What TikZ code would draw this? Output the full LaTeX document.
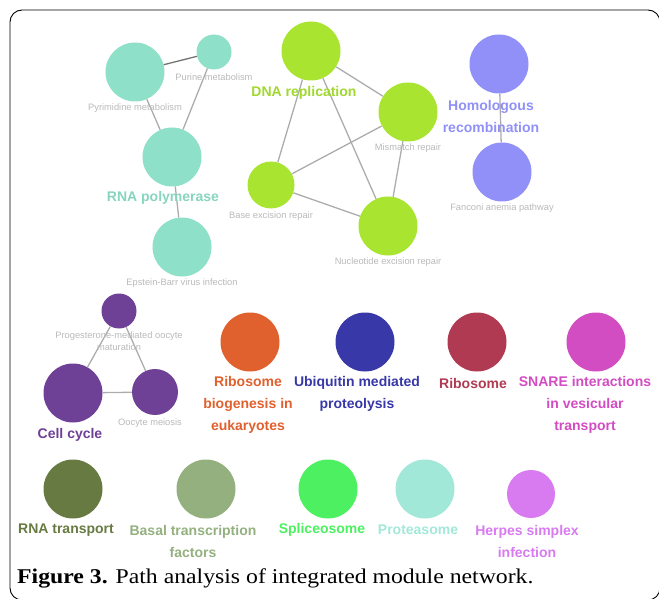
\documentclass[tikz,border=0pt]{standalone}
\usepackage{fontspec}
\setmainfont{Liberation Serif}
\newfontfamily\arialfont{Liberation Sans}
\usetikzlibrary{positioning}

\definecolor{teal1}{HTML}{8EE0C8}
\definecolor{lime1}{HTML}{A8E430}
\definecolor{lilac1}{HTML}{9090F8}
\definecolor{grape1}{HTML}{6E4096}
\definecolor{rust1}{HTML}{E0602E}
\definecolor{navy1}{HTML}{3838A8}
\definecolor{wine1}{HTML}{B03A52}
\definecolor{pink1}{HTML}{D24CC2}
\definecolor{olive1}{HTML}{667A42}
\definecolor{sage1}{HTML}{93B07E}
\definecolor{neon1}{HTML}{4CF060}
\definecolor{mint1}{HTML}{A2E8D8}
\definecolor{orchid1}{HTML}{D87AF0}

\begin{document}
\begin{tikzpicture}[
  x=1pt,y=-1pt,
  pathway/.style={circle,inner sep=0pt,minimum size=#1},
  pathway/.default=59pt,
  module/.style={font=\arialfont\bfseries\fontsize{14}{22}\selectfont,
    align=center,inner sep=0pt},
  member/.style={font=\arialfont\fontsize{9.3}{12}\selectfont,
    text=gray!55,align=center,inner sep=0pt},
  link/.style={draw=gray!65,line width=1.3pt}
]
\useasboundingbox (0,0) rectangle (659,599);
\draw[rounded corners=12pt,line width=0.9pt] (10,10) rectangle (660,600);

% teal module
\node[pathway,fill=teal1] (pyrimidine) at (135,72) {};
\node[pathway=35pt,fill=teal1] (purine) at (214,52) {};
\node[pathway,fill=teal1] (rnapol) at (172,157) {};
\node[pathway,fill=teal1] (ebv) at (182,247) {};
\draw[link,draw=gray!90!black] (pyrimidine)--(purine);
\draw[link] (pyrimidine)--(rnapol);
\draw[link] (purine)--(rnapol);
\draw[link] (rnapol)--(ebv);
\node[member] (purine-t) at (214,77) {Purine metabolism};
\node[member] (pyrimidine-t) at (135,108) {Pyrimidine metabolism};
\node[module,text=teal1!95!black] (rnapol-t) at (163,198) {RNA polymerase};
\node[member] (ebv-t) at (182,283) {Epstein-Barr virus infection};

% lime module
\node[pathway,fill=lime1] (dnarep) at (311,51) {};
\node[pathway,fill=lime1] (mismatch) at (408,112) {};
\node[pathway=47pt,fill=lime1] (baseexc) at (271,185) {};
\node[pathway,fill=lime1] (nucexc) at (388,226) {};
\draw[link] (dnarep)--(mismatch);
\draw[link] (dnarep)--(baseexc);
\draw[link] (dnarep)--(nucexc);
\draw[link] (mismatch)--(baseexc);
\draw[link] (mismatch)--(nucexc);
\draw[link] (baseexc)--(nucexc);
\node[module,text=lime1!95!black] (dnarep-t) at (304,93) {DNA replication};
\node[member] (mismatch-t) at (408,148) {Mismatch repair};
\node[member] (baseexc-t) at (271,216) {Base excision repair};
\node[member] (nucexc-t) at (388,262) {Nucleotide excision repair};

% lilac module
\node[pathway,fill=lilac1] (homrec) at (499,64) {};
\node[pathway,fill=lilac1] (fanconi) at (502,172) {};
\draw[link] (homrec)--(fanconi);
\node[module,text=lilac1] (homrec-t) at (491,116) {Homologous\\recombination};
\node[member] (fanconi-t) at (502,208) {Fanconi anemia pathway};

% grape module
\node[pathway=35pt,fill=grape1] (progest) at (119,311) {};
\node[pathway,fill=grape1] (cellcycle) at (73,393) {};
\node[pathway=46pt,fill=grape1] (meiosis) at (155,392) {};
\draw[link] (progest)--(cellcycle);
\draw[link] (progest)--(meiosis);
\draw[link] (cellcycle)--(meiosis);
\node[member] (progest-t) at (119,341) {Progesterone-mediated oocyte\\maturation};
\node[module,text=grape1] (cellcycle-t) at (70,435) {Cell cycle};
\node[member] (meiosis-t) at (150,423) {Oocyte meiosis};

% single pathways, middle row
\node[pathway,fill=rust1] (ribobio) at (250,342) {};
\node[pathway,fill=navy1] (ubiq) at (365,342) {};
\node[pathway,fill=wine1] (ribosome) at (477,342) {};
\node[pathway,fill=pink1] (snare) at (596,342) {};
\node[module,text=rust1] (ribobio-t) at (248,405) {Ribosome\\biogenesis in\\eukaryotes};
\node[module,text=navy1] (ubiq-t) at (357,394) {Ubiquitin mediated\\proteolysis};
\node[module,text=wine1] (ribosome-t) at (473,383) {Ribosome};
\node[module,text=pink1] (snare-t) at (585,405) {SNARE interactions\\in vesicular\\transport};

% single pathways, bottom row
\node[pathway,fill=olive1] (rnatrans) at (73,489) {};
\node[pathway,fill=sage1] (basal) at (206,489) {};
\node[pathway,fill=neon1] (splice) at (328,489) {};
\node[pathway,fill=mint1] (proteas) at (425,489) {};
\node[pathway=48pt,fill=orchid1] (herpes) at (531,494) {};
\node[module,text=olive1] (rnatrans-t) at (66,530) {RNA transport};
\node[module,text=sage1] (basal-t) at (193,541) {Basal transcription\\factors};
\node[module,text=neon1] (splice-t) at (322,530) {Spliceosome};
\node[module,text=mint1] (proteas-t) at (418,530) {Proteasome};
\node[module,text=orchid1] (herpes-t) at (527,541) {Herpes simplex\\infection};

\node[anchor=west,inner sep=0pt,font=\fontsize{21}{24}\selectfont] (caption) at (17,578)
  {\scalebox{1.13}[1]{\textbf{Figure 3.} Path analysis of integrated module network.}};
\end{tikzpicture}
\end{document}
